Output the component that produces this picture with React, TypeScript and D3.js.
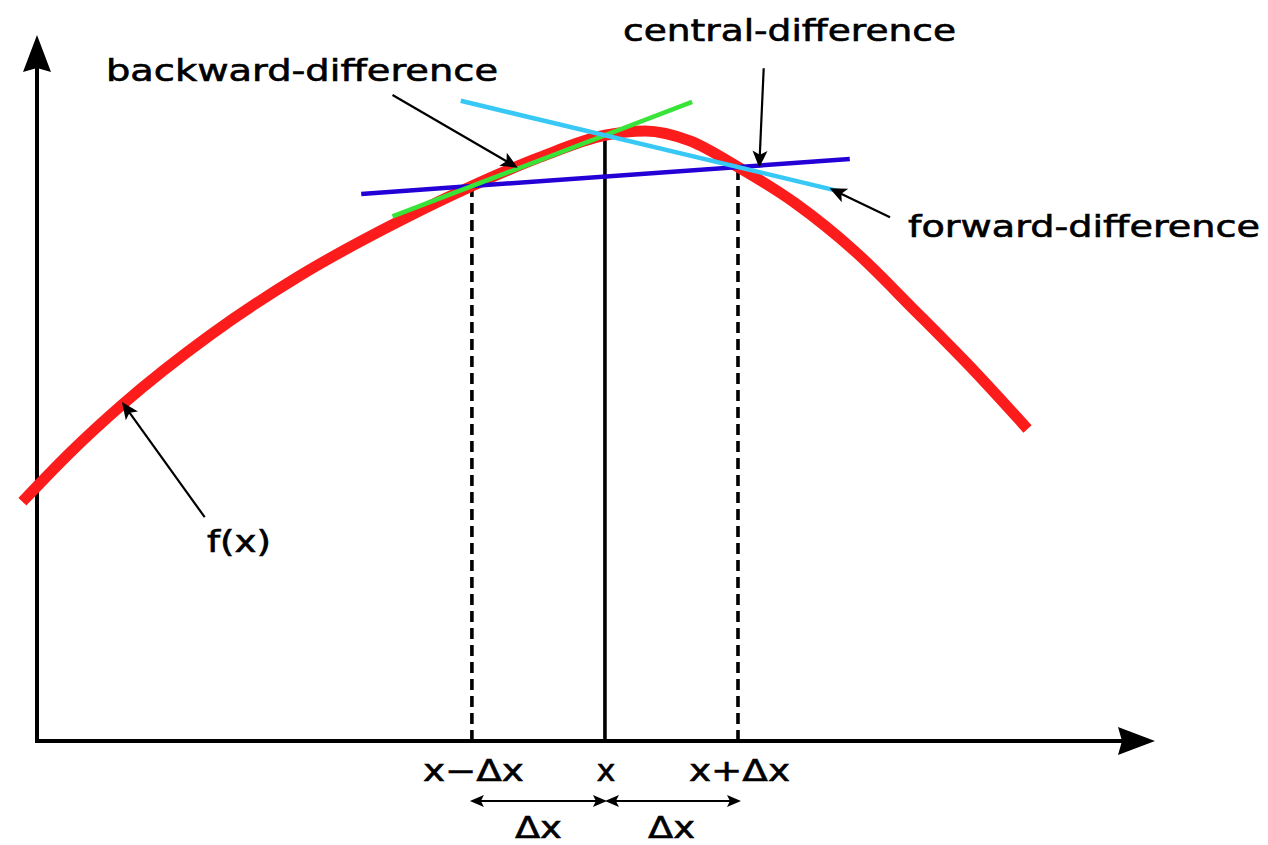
import React, { useEffect } from 'react';
import * as d3 from 'd3';

// ---- data (diagram units: axis origin = (0,0)) ----
const curveX = [-0.13, 0.30, 0.76, 1.55, 2.35, 3.25, 3.89, 4.50, 5.08, 5.44, 5.84, 6.27, 6.78, 7.32, 7.85, 8.39, 8.86];
const curveY = [3.39, 4.09, 4.76, 5.75, 6.59, 7.37, 7.86, 8.27, 8.58, 8.64, 8.50, 8.13, 7.62, 6.93, 6.10, 5.23, 4.42];

const stencilNames = ['minus', 'center', 'plus'];
const stencilX = [3.89, 5.08, 6.27];
const tickLabels = ['x\u2212\u0394x', 'x', 'x+\u0394x'];
const stepLabel = '\u0394x';

const secantNames = ['central', 'backward', 'forward'];
const secantFrom = [0, 0, 1];
const secantTo = [2, 1, 2];
const secantStart = [2.90, 3.18, 3.79];
const secantEnd = [7.27, 5.86, 7.18];

const annotationText = ['central-difference', 'backward-difference', 'forward-difference', 'f(x)'];

// ---- styles / layout ----
const secantColor: Record<string, string> = {
  central: '#2400d6',
  backward: '#38e438',
  forward: '#38c8f6',
};
const FONT = '"DejaVu Sans", Verdana, sans-serif';
const FS = 30;

// annotation arrows: [fromX, fromY, toX, toY] in diagram units
const annotationArrows = [
  [6.50, 9.53, 6.46, 8.12],
  [3.18, 9.15, 4.30, 8.12],
  [7.63, 7.42, 7.09, 7.83],
  [1.50, 3.17, 0.76, 4.80],
];
// annotation label placement in px: [x, baseline, width]
const annotationPos = [
  [623, 41, 333],
  [106, 81, 392],
  [908, 237, 352],
  [207, 552, 64],
];

function arrowHead(fx: number, fy: number, tx: number, ty: number, len: number, hw: number, notch: number) {
  const a = Math.atan2(ty - fy, tx - fx);
  const c = Math.cos(a), s = Math.sin(a);
  const P = (u: number, v: number) => `${tx + u * c - v * s},${ty + u * s + v * c}`;
  return `M${tx},${ty}L${P(-len, -hw)}L${P(-len + notch, 0)}L${P(-len, hw)}Z`;
}
function shaftEnd(fx: number, fy: number, tx: number, ty: number, back: number) {
  const a = Math.atan2(ty - fy, tx - fx);
  return [tx - back * Math.cos(a), ty - back * Math.sin(a)];
}

export default function App() {
  useEffect(() => {
    document.body.style.margin = '0';
  }, []);

  const W = 1268, H = 845;
  const x = d3.scaleLinear().domain([0, 10]).range([37, 1155]);
  const y = d3.scaleLinear().domain([0, 10]).range([741, 35]);

  const pts: [number, number][] = curveX.map((v, i) => [v, curveY[i]]);
  const curve = d3
    .line<[number, number]>()
    .x((d) => x(d[0]))
    .y((d) => y(d[1]))
    .curve(d3.curveMonotoneX);

  const f = (v: number) => curveY[curveX.indexOf(v)];
  const fs = stencilX.map(f);

  // axes
  const ox = x(0), oy = y(0);
  const xTip = x(10), yTip = y(10);
  const axisLen = 37, axisHW = 14, axisNotch = 4;

  const secants = secantNames.map((name, i) => {
    const x0 = stencilX[secantFrom[i]], x1 = stencilX[secantTo[i]];
    const y0 = fs[secantFrom[i]], y1 = fs[secantTo[i]];
    const m = (y1 - y0) / (x1 - x0);
    const a = secantStart[i], b = secantEnd[i];
    return { name, x1: x(a), y1: y(y0 + m * (a - x0)), x2: x(b), y2: y(y0 + m * (b - x0)) };
  });

  const stepY = 801;
  const textProps = { fontFamily: FONT, fontSize: FS, fill: '#000', stroke: '#000', strokeWidth: 0.6 };

  return (
    <svg width={W} height={H} viewBox={`0 0 ${W} ${H}`} style={{ position: 'absolute', left: 0, top: 0, background: '#fff' }}>
      <rect x={0} y={0} width={W} height={H} fill="#fff" />
      {/* vertical guide lines */}
      {stencilNames.map((n, i) => (
        <line
          key={n}
          x1={x(stencilX[i])}
          x2={x(stencilX[i])}
          y1={oy}
          y2={y(fs[i]) + (n === 'center' ? 0 : 5)}
          stroke="#000"
          strokeWidth={3.6}
          strokeDasharray={n === 'center' ? undefined : '11,6'}
        />
      ))}
      {/* axes */}
      <line x1={ox} y1={oy + 2} x2={ox} y2={yTip + axisLen - axisNotch} stroke="#000" strokeWidth={4} />
      <path d={arrowHead(ox, oy, ox, yTip, axisLen, axisHW, axisNotch)} fill="#000" />
      <line x1={ox - 2} y1={oy} x2={xTip - axisLen + axisNotch} y2={oy} stroke="#000" strokeWidth={4} />
      <path d={arrowHead(ox, oy, xTip, oy, axisLen, axisHW, axisNotch)} fill="#000" />

      {/* f(x) */}
      <path d={curve(pts) || ''} fill="none" stroke="#fc1c1c" strokeWidth={11} strokeLinecap="butt" />

      {/* secant lines */}
      {secants.map((s) => (
        <line key={s.name} x1={s.x1} y1={s.y1} x2={s.x2} y2={s.y2} stroke={secantColor[s.name]} strokeWidth={4.5} />
      ))}

      {/* annotation arrows */}
      {annotationArrows.map((a, i) => {
        const fx = x(a[0]), fy = y(a[1]), tx = x(a[2]), ty = y(a[3]);
        const [ex, ey] = shaftEnd(fx, fy, tx, ty, 12);
        return (
          <g key={i}>
            <line x1={fx} y1={fy} x2={ex} y2={ey} stroke="#000" strokeWidth={2.2} />
            <path d={arrowHead(fx, fy, tx, ty, 17, 7.5, 4)} fill="#000" />
          </g>
        );
      })}
      {annotationText.map((t, i) => (
        <text
          key={t}
          x={annotationPos[i][0]}
          y={annotationPos[i][1]}
          textLength={annotationPos[i][2]}
          lengthAdjust="spacingAndGlyphs"
          {...textProps}
        >
          {t}
        </text>
      ))}

      {/* tick labels */}
      {tickLabels.map((t, i) => (
        <text
          key={t}
          x={x(stencilX[i]) + (i === 1 ? 1 : 1.5)}
          y={781}
          textAnchor="middle"
          textLength={i === 1 ? 19 : 101}
          lengthAdjust="spacingAndGlyphs"
          {...textProps}
        >
          {t}
        </text>
      ))}

      {/* Δx double arrows */}
      {[0, 1].map((k) => {
        const ax = x(stencilX[k]) - 2 + (k === 1 ? 2 : 0);
        const bx = x(stencilX[k + 1]) + 2 + (k === 1 ? 1 : 0);
        return (
          <g key={k}>
            <line x1={ax + 10} y1={stepY} x2={bx - 10} y2={stepY} stroke="#000" strokeWidth={2.2} />
            <path d={arrowHead(bx, stepY, ax, stepY, 14, 6, 3)} fill="#000" />
            <path d={arrowHead(ax, stepY, bx, stepY, 14, 6, 3)} fill="#000" />
            <text
              x={(x(stencilX[k]) + x(stencilX[k + 1])) / 2}
              y={838}
              textAnchor="middle"
              textLength={47}
              lengthAdjust="spacingAndGlyphs"
              {...textProps}
            >
              {stepLabel}
            </text>
          </g>
        );
      })}
    </svg>
  );
}
